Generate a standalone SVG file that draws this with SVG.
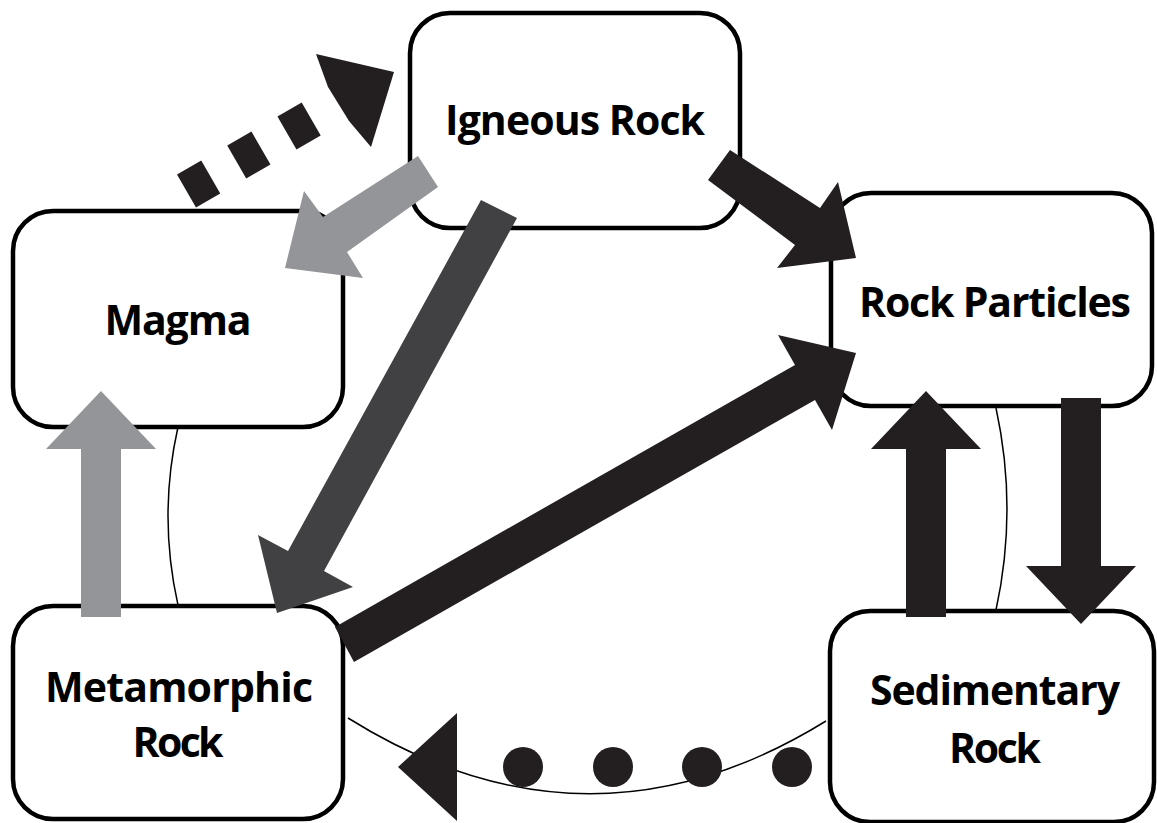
<svg xmlns="http://www.w3.org/2000/svg" width="1157" height="823" viewBox="0 0 1157 823">
<style>
.box{fill:#fff;stroke:#000;stroke-width:4.5}
.lbl{font-family:"Open Sans","Noto Sans","Liberation Sans",sans-serif;font-weight:bold;font-size:41px;fill:#000;text-anchor:middle}
.thin{fill:none;stroke:#000;stroke-width:1.5}
.blk{fill:#231f20}
.dk{fill:#414042}
.lt{fill:#939598}
</style>
<rect width="1157" height="823" fill="#fff"/>
<g id="node-igneous">
<rect class="box" x="410" y="13" width="330" height="215" rx="40"/>
<text class="lbl" x="575" y="135" textLength="260">Igneous Rock</text>
</g>
<g id="node-magma">
<rect class="box" x="13" y="211" width="330" height="216" rx="40"/>
<text class="lbl" x="178" y="335" textLength="147">Magma</text>
</g>
<g id="node-particles">
<rect class="box" x="831" y="193" width="321" height="213" rx="40"/>
<text class="lbl" x="995" y="317" textLength="272">Rock Particles</text>
</g>
<g id="node-metamorphic">
<rect class="box" x="13" y="606" width="330" height="213" rx="40"/>
<text class="lbl" x="179" y="702" textLength="268">Metamorphic</text>
<text class="lbl" x="178" y="757" textLength="91">Rock</text>
</g>
<g id="node-sedimentary">
<rect class="box" x="830" y="611" width="324" height="211" rx="40"/>
<text class="lbl" x="995" y="705" textLength="250">Sedimentary</text>
<text class="lbl" x="995" y="763" textLength="92">Rock</text>
</g>
<g id="connectors">
<path class="thin" d="M178,427 Q158,516 178,605"/>
<path class="thin" d="M996,408 Q1018,509 996,610"/>
<path class="thin" d="M348,718 Q588,868 826,721"/>
<!-- Magma -> Igneous (dashed) -->
<line x1="186.5" y1="191" x2="311.2" y2="119" stroke="#231f20" stroke-width="38" stroke-dasharray="28 30"/>
<polygon class="blk" points="328,87 316,54 394,72 371,147 349,121"/>
<!-- Igneous -> Magma (light gray) -->
<polygon class="lt" points="418,156 438,187 347,252 363,278 285,268 304,191 323,217"/>
<!-- Igneous -> Metamorphic (dark gray) -->
<polygon class="dk" points="481,200 517,218 324,571 353,587 277,613 258,535 288,551"/>
<!-- Igneous -> Rock Particles -->
<polygon class="blk" points="730,150 820,208 838,182 856,258 777,268 795,245 708,180"/>
<!-- Metamorphic -> Rock Particles -->
<polygon class="blk" points="335,627 795,365 778,335 856,353 832,430 815,400 354,662"/>
<!-- Metamorphic -> Magma -->
<polygon class="lt" points="81,617 81,449 46,449 101,391 156,449 121,449 121,617"/>
<!-- Sedimentary -> Rock Particles -->
<polygon class="blk" points="906,617 906,449 871,449 926,391 981,449 946,449 946,617"/>
<!-- Rock Particles -> Sedimentary -->
<polygon class="blk" points="1061,398 1101,398 1101,566 1136,566 1081,624 1026,566 1061,566"/>
<!-- Sedimentary -> Metamorphic (dotted) -->
<circle class="blk" cx="523" cy="767" r="20"/>
<circle class="blk" cx="613" cy="767" r="20"/>
<circle class="blk" cx="702" cy="767" r="20"/>
<circle class="blk" cx="792" cy="767" r="20"/>
<polygon class="blk" points="398,767 457,713 457,821"/>
</g>
</svg>
